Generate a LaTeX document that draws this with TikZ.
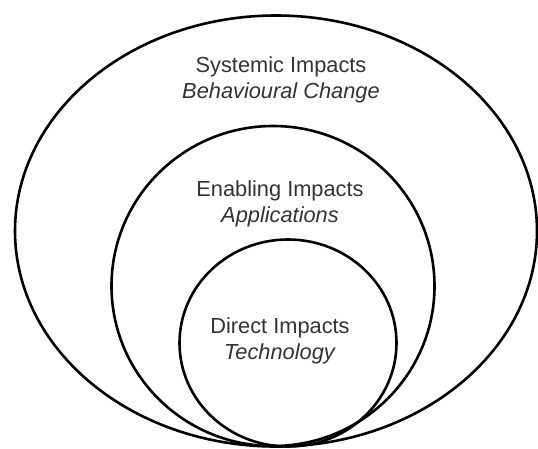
\documentclass[tikz,border=0pt]{standalone}
\usepackage{fontspec}
\setmainfont{Liberation Sans}
\usetikzlibrary{shapes.geometric}

\tikzstyle{impact} = [
    ellipse, draw=black, line width=2.6pt,
    inner sep=0pt
]
\tikzstyle{caption} = [
    align=center, text=black!80,
    font=\fontsize{21.8}{26}\selectfont
]

\begin{document}
\begin{tikzpicture}[x=1pt, y=-1pt]
    \useasboundingbox (0,0) rectangle (538,448);

    \node (systemic) [impact, minimum width=522pt, minimum height=431pt] at (276,231) {};
    \node (enabling) [impact, minimum width=323pt, minimum height=320pt] at (273,286) {};
    \node (direct)   [impact, minimum width=217pt, minimum height=207pt] at (288,343) {};

    \node (systemictext) [caption] at (281,80)  {Systemic Impacts\\\textit{Behavioural Change}};
    \node (enablingtext) [caption] at (280,204) {Enabling Impacts\\\textit{Applications}};
    \node (directtext)   [caption] at (280,341) {Direct Impacts\\\textit{Technology}};
\end{tikzpicture}
\end{document}
